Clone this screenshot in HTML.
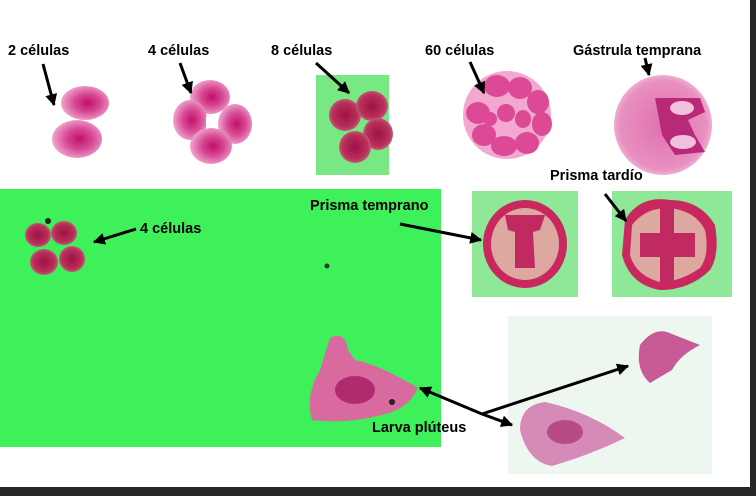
<!DOCTYPE html>
<html><head><meta charset="utf-8"><style>
body{margin:0;width:756px;height:496px;overflow:hidden;background:#fff;font-family:"Liberation Sans",sans-serif}
svg{position:absolute;left:0;top:0}
text{font-family:"Liberation Sans",sans-serif;font-weight:bold;font-size:14.5px;fill:#000}
</style></head><body>
<svg width="756" height="496">
<defs>
<radialGradient id="cell" cx="55%" cy="50%" r="55%"><stop offset="0" stop-color="#c0106a"/><stop offset="0.5" stop-color="#d84a95"/><stop offset="1" stop-color="#f0a6cf"/></radialGradient>
<radialGradient id="dcell" cx="50%" cy="50%" r="55%"><stop offset="0" stop-color="#a01045"/><stop offset="0.7" stop-color="#b8305a"/><stop offset="1" stop-color="#c86a80"/></radialGradient>
<radialGradient id="emb" cx="50%" cy="50%" r="55%"><stop offset="0" stop-color="#e070b0"/><stop offset="0.8" stop-color="#e890c0"/><stop offset="1" stop-color="#f4c6dc"/></radialGradient>
<marker id="ah" viewBox="0 0 10 10" refX="9" refY="5" markerWidth="4" markerHeight="4" orient="auto"><path d="M0,0L10,5L0,10z" fill="#000"/></marker>
</defs>
<rect x="750" y="0" width="6" height="496" fill="#262626"/>
<rect x="0" y="487" width="756" height="9" fill="#262626"/>

<g>
<ellipse cx="85" cy="103" rx="24" ry="17" fill="url(#cell)"/>
<ellipse cx="77" cy="139" rx="25" ry="19" fill="url(#cell)"/>
</g>
<g>
<ellipse cx="210" cy="97" rx="20" ry="17" fill="url(#cell)"/>
<ellipse cx="190" cy="120" rx="17" ry="20" fill="url(#cell)"/>
<ellipse cx="235" cy="124" rx="17" ry="20" fill="url(#cell)"/>
<ellipse cx="211" cy="146" rx="21" ry="18" fill="url(#cell)"/>
<rect x="206" y="117" width="8" height="8" fill="#fff"/>
</g>
<rect x="316" y="75" width="73" height="100" fill="#78e884"/>
<g>
<ellipse cx="345" cy="115" rx="16" ry="16" fill="url(#dcell)"/>
<ellipse cx="372" cy="106" rx="16" ry="15" fill="url(#dcell)"/>
<ellipse cx="378" cy="134" rx="15" ry="16" fill="url(#dcell)"/>
<ellipse cx="355" cy="147" rx="16" ry="16" fill="url(#dcell)"/>
</g>
<g>
<circle cx="507" cy="115" r="44" fill="#f2a8d0"/>
<g fill="#dc4a96">
<ellipse cx="497" cy="86" rx="13" ry="11"/><ellipse cx="520" cy="88" rx="12" ry="11"/><ellipse cx="538" cy="102" rx="11" ry="12"/>
<ellipse cx="478" cy="113" rx="12" ry="11"/><ellipse cx="542" cy="124" rx="10" ry="12"/><ellipse cx="484" cy="135" rx="12" ry="11"/>
<ellipse cx="504" cy="146" rx="13" ry="10"/><ellipse cx="527" cy="143" rx="12" ry="11"/><ellipse cx="506" cy="113" rx="9" ry="9"/>
<ellipse cx="523" cy="119" rx="8" ry="9"/><ellipse cx="490" cy="119" rx="7" ry="7"/>
</g></g>
<g>
<ellipse cx="663" cy="125" rx="49" ry="50" fill="url(#emb)"/>
<path d="M655,98 L700,98 L705,112 L688,120 L695,135 L705,152 L675,155 L662,135 Z" fill="#b82a78"/>
<ellipse cx="682" cy="108" rx="12" ry="7" fill="#f0c0dc"/>
<ellipse cx="683" cy="142" rx="13" ry="7" fill="#f0c0dc"/>
</g>
<rect x="0" y="189" width="441" height="258" fill="#3ef05a"/>
<g>
<ellipse cx="38" cy="235" rx="13" ry="12" fill="url(#dcell)"/>
<ellipse cx="64" cy="233" rx="13" ry="12" fill="url(#dcell)"/>
<ellipse cx="44" cy="262" rx="14" ry="13" fill="url(#dcell)"/>
<ellipse cx="72" cy="259" rx="13" ry="13" fill="url(#dcell)"/>
<circle cx="48" cy="221" r="3" fill="#222"/>
</g>
<circle cx="327" cy="266" r="2.5" fill="#333"/>
<g>
<path d="M330,338 Q345,330 348,350 L355,360 Q380,365 418,388 Q410,405 392,412 Q350,425 312,420 Q305,395 320,370 Z" fill="#d86aa0"/>
<ellipse cx="355" cy="390" rx="20" ry="14" fill="#b02a70"/>
<circle cx="392" cy="402" r="3" fill="#222"/>
</g>
<rect x="472" y="191" width="106" height="106" fill="#8ee898"/>
<g>
<ellipse cx="525" cy="244" rx="42" ry="44" fill="#c8285e"/>
<ellipse cx="525" cy="244" rx="34" ry="36" fill="#dca8a0"/>
<path d="M505,215 L545,215 L540,230 L533,232 L535,268 L515,268 L515,232 L508,230 Z" fill="#c02a60"/>
</g>
<rect x="612" y="191" width="120" height="106" fill="#8ee898"/>
<g>
<path d="M625,220 Q640,195 670,200 Q700,200 715,225 Q720,255 710,270 Q690,290 660,290 Q630,285 622,255 Z" fill="#c8285e"/>
<path d="M632,225 Q645,208 668,208 Q695,210 705,230 Q710,255 700,268 Q680,282 660,282 Q636,276 630,255 Z" fill="#dca8a0"/>
<rect x="640" y="233" width="55" height="24" fill="#c02a60"/>
<rect x="660" y="202" width="14" height="80" fill="#c02a60"/>
</g>
<rect x="508" y="316" width="204" height="158" fill="#eef6f0"/>
<g>
<path d="M640,345 Q655,325 672,334 L700,345 Q680,355 672,370 L650,383 Q635,370 640,345 Z" fill="#c85a98"/>
<path d="M520,430 Q520,405 545,402 Q590,412 625,438 Q590,455 552,466 Q528,462 520,430 Z" fill="#d68ab8"/>
<ellipse cx="565" cy="432" rx="18" ry="12" fill="#b84a88"/>
</g>
<g stroke="#000" stroke-width="3" marker-end="url(#ah)">
<line x1="43" y1="64" x2="54" y2="105"/>
<line x1="180" y1="63" x2="191" y2="93"/>
<line x1="316" y1="63" x2="349" y2="93"/>
<line x1="470" y1="62" x2="484" y2="93"/>
<line x1="645" y1="58" x2="649" y2="75"/>
<line x1="136" y1="229" x2="94" y2="242"/>
<line x1="400" y1="224" x2="481" y2="240"/>
<line x1="605" y1="194" x2="626" y2="221"/>
<line x1="482" y1="414" x2="420" y2="388"/>
<line x1="482" y1="414" x2="628" y2="366"/>
<line x1="482" y1="414" x2="512" y2="425"/>
</g>
<text x="8" y="55">2 células</text>
<text x="148" y="55">4 células</text>
<text x="271" y="55">8 células</text>
<text x="425" y="55">60 células</text>
<text x="573" y="55">Gástrula temprana</text>
<text x="550" y="180">Prisma tardío</text>
<text x="310" y="210">Prisma temprano</text>
<text x="140" y="233">4 células</text>
<text x="372" y="432">Larva plúteus</text>
</svg>
</body></html>
